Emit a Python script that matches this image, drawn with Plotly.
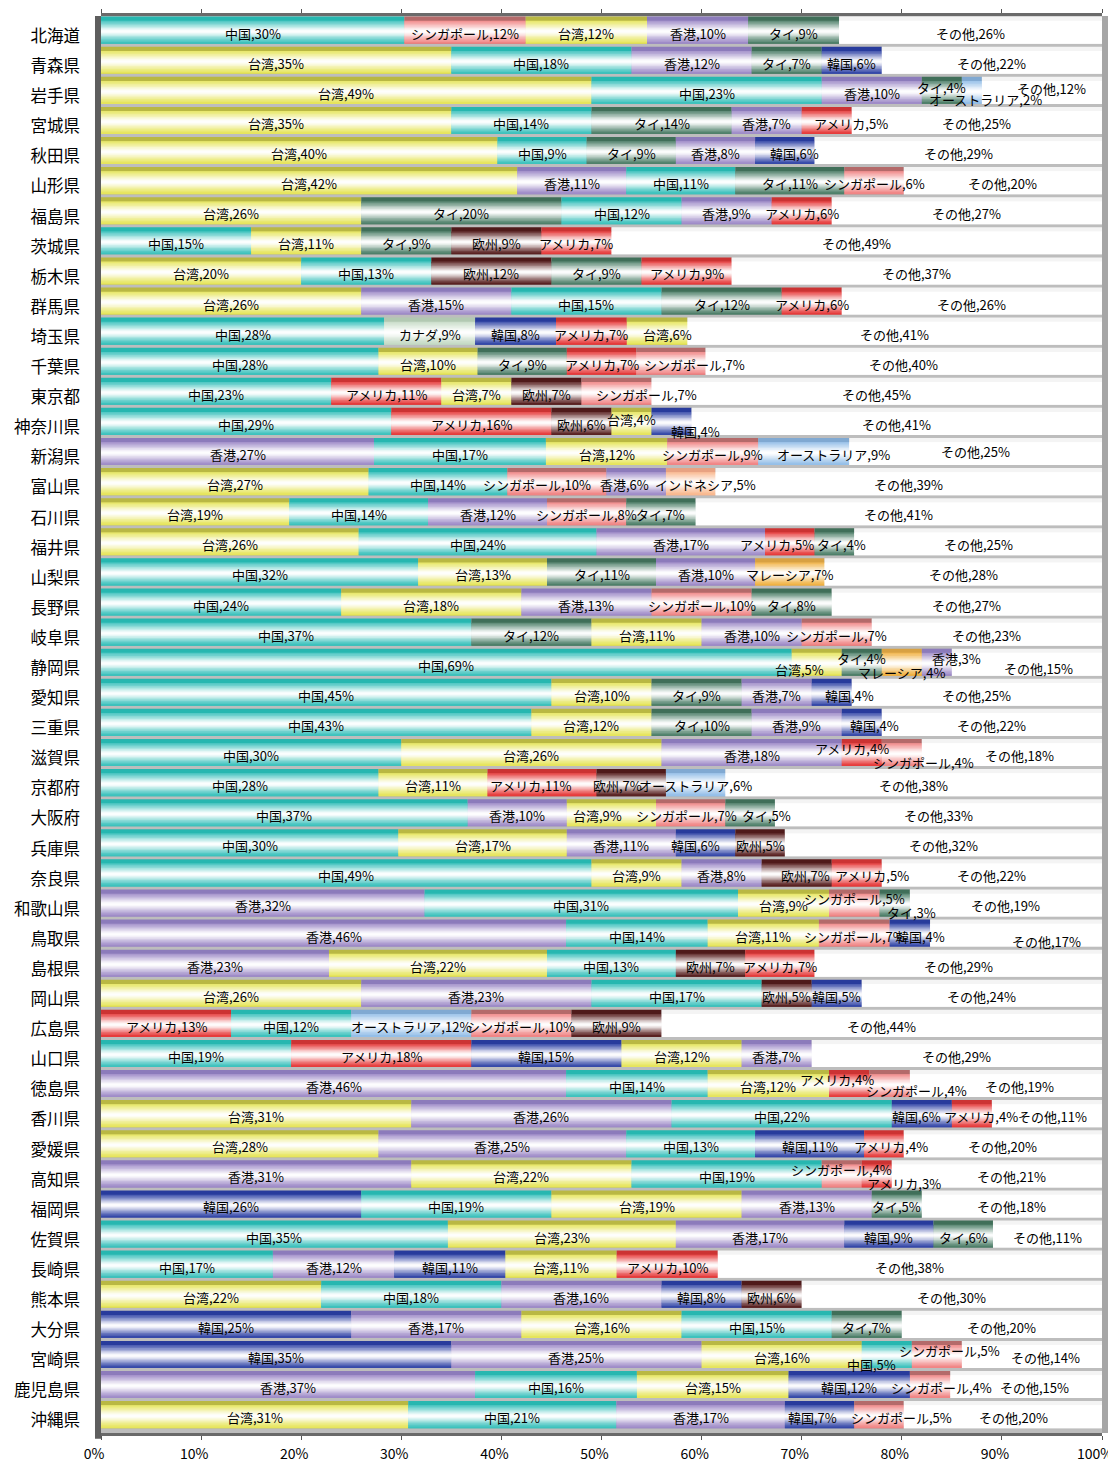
import numpy as np
import plotly.graph_objects as go

prefectures = ["北海道", "青森県", "岩手県", "宮城県", "秋田県", "山形県", "福島県", "茨城県", "栃木県", "群馬県",
               "埼玉県", "千葉県", "東京都", "神奈川県", "新潟県", "富山県", "石川県", "福井県", "山梨県", "長野県",
               "岐阜県", "静岡県", "愛知県", "三重県", "滋賀県", "京都府", "大阪府", "兵庫県", "奈良県", "和歌山県",
               "鳥取県", "島根県", "岡山県", "広島県", "山口県", "徳島県", "香川県", "愛媛県", "高知県", "福岡県",
               "佐賀県", "長崎県", "熊本県", "大分県", "宮崎県", "鹿児島県", "沖縄県"]

rank1_country = ["中国", "台湾", "台湾", "台湾", "台湾", "台湾", "台湾", "中国", "台湾", "台湾",
                 "中国", "中国", "中国", "中国", "香港", "台湾", "台湾", "台湾", "中国", "中国",
                 "中国", "中国", "中国", "中国", "中国", "中国", "中国", "中国", "中国", "香港",
                 "香港", "香港", "台湾", "アメリカ", "中国", "香港", "台湾", "台湾", "香港", "韓国",
                 "中国", "中国", "台湾", "韓国", "韓国", "香港", "台湾"]
rank1_value = [30, 35, 49, 35, 40, 42, 26, 15, 20, 26,
               28, 28, 23, 29, 27, 27, 19, 26, 32, 24,
               37, 69, 45, 43, 30, 28, 37, 30, 49, 32,
               46, 23, 26, 13, 19, 46, 31, 28, 31, 26,
               35, 17, 22, 25, 35, 37, 31]

rank2_country = ["シンガポール", "中国", "中国", "中国", "中国", "香港", "タイ", "台湾", "中国", "香港",
                 "カナダ", "台湾", "アメリカ", "アメリカ", "中国", "中国", "中国", "中国", "台湾", "台湾",
                 "タイ", "台湾", "台湾", "台湾", "台湾", "台湾", "香港", "台湾", "台湾", "中国",
                 "中国", "台湾", "香港", "中国", "アメリカ", "中国", "香港", "香港", "台湾", "中国",
                 "台湾", "香港", "中国", "香港", "香港", "中国", "中国"]
rank2_value = [12, 18, 23, 14, 9, 11, 20, 11, 13, 15,
               9, 10, 11, 16, 17, 14, 14, 24, 13, 18,
               12, 5, 10, 12, 26, 11, 10, 17, 9, 31,
               14, 22, 23, 12, 18, 14, 26, 25, 22, 19,
               23, 12, 18, 17, 25, 16, 21]

rank3_country = ["台湾", "香港", "香港", "タイ", "タイ", "中国", "中国", "タイ", "欧州", "中国",
                 "韓国", "タイ", "台湾", "欧州", "台湾", "シンガポール", "香港", "香港", "タイ", "香港",
                 "台湾", "タイ", "タイ", "タイ", "香港", "アメリカ", "台湾", "香港", "香港", "台湾",
                 "台湾", "中国", "中国", "オーストラリア", "韓国", "台湾", "中国", "中国", "中国", "台湾",
                 "香港", "韓国", "香港", "台湾", "台湾", "台湾", "香港"]
rank3_value = [12, 12, 10, 14, 9, 11, 12, 9, 12, 15,
               8, 9, 7, 6, 12, 10, 12, 17, 11, 13,
               11, 4, 9, 10, 18, 11, 9, 11, 8, 9,
               11, 13, 17, 12, 15, 12, 22, 13, 19, 19,
               17, 11, 16, 16, 16, 15, 17]

rank4_country = ["香港", "タイ", "タイ", "香港", "香港", "タイ", "香港", "欧州", "タイ", "タイ",
                 "アメリカ", "アメリカ", "欧州", "台湾", "シンガポール", "香港", "シンガポール", "アメリカ", "香港", "シンガポール",
                 "香港", "マレーシア", "香港", "香港", "アメリカ", "欧州", "シンガポール", "韓国", "欧州", "シンガポール",
                 "シンガポール", "欧州", "欧州", "シンガポール", "台湾", "アメリカ", "韓国", "韓国", "シンガポール", "香港",
                 "韓国", "台湾", "韓国", "中国", "中国", "韓国", "韓国"]
rank4_value = [10, 7, 4, 7, 8, 11, 9, 9, 9, 12,
               7, 7, 7, 4, 9, 6, 8, 5, 10, 10,
               10, 4, 7, 9, 4, 7, 7, 6, 7, 5,
               7, 7, 5, 10, 12, 4, 6, 11, 4, 13,
               9, 11, 8, 15, 5, 12, 7]

rank5_country = ["タイ", "韓国", "オーストラリア", "アメリカ", "韓国", "シンガポール", "アメリカ", "アメリカ", "アメリカ", "アメリカ",
                 "台湾", "シンガポール", "シンガポール", "韓国", "オーストラリア", "インドネシア", "タイ", "タイ", "マレーシア", "タイ",
                 "シンガポール", "香港", "韓国", "韓国", "シンガポール", "オーストラリア", "タイ", "欧州", "アメリカ", "タイ",
                 "韓国", "アメリカ", "韓国", "欧州", "香港", "シンガポール", "アメリカ", "アメリカ", "アメリカ", "タイ",
                 "タイ", "アメリカ", "欧州", "タイ", "シンガポール", "シンガポール", "シンガポール"]
rank5_value = [9, 6, 2, 5, 6, 6, 6, 7, 9, 6,
               6, 7, 7, 4, 9, 5, 7, 4, 7, 8,
               7, 3, 4, 4, 4, 6, 5, 5, 5, 3,
               4, 7, 5, 9, 7, 4, 4, 4, 3, 5,
               6, 10, 6, 7, 5, 4, 5]

other_label = "その他"
other_value = [26, 22, 12, 25, 29, 20, 27, 49, 37, 26,
               41, 40, 45, 41, 25, 39, 41, 25, 28, 27,
               23, 15, 25, 22, 18, 38, 33, 32, 22, 19,
               17, 29, 24, 44, 29, 19, 11, 20, 21, 18,
               11, 38, 30, 20, 14, 15, 20]

x_tick_values = [0, 10, 20, 30, 40, 50, 60, 70, 80, 90, 100]
x_tick_labels = ["0%", "10%", "20%", "30%", "40%", "50%", "60%", "70%", "80%", "90%", "100%"]

# ---------------------------------------------------------------- styling
COLORS = {  # (top face, front face)
    "中国": ("#27b7b0", "#3ec2bd"),
    "台湾": ("#b9b843", "#e6e55c"),
    "香港": ("#8c7bbb", "#9f8cc8"),
    "タイ": ("#406f59", "#4f806a"),
    "韓国": ("#283b9c", "#3649a9"),
    "シンガポール": ("#b46a6a", "#f08585"),
    "アメリカ": ("#cc3333", "#e63c3c"),
    "欧州": ("#4f1a1a", "#5a2222"),
    "オーストラリア": ("#80a9d2", "#95bfe8"),
    "マレーシア": ("#d8a142", "#f0b244"),
    "インドネシア": ("#e8a282", "#f9b88f"),
    "カナダ": ("#b2c9b2", "#c6dbc6"),
    "その他": ("#f4f4f4", "#ffffff"),
}


def mix(hex_color, t):
    h = hex_color.lstrip("#")
    r, g, b = int(h[0:2], 16), int(h[2:4], 16), int(h[4:6], 16)
    r = round(r + (255 - r) * t)
    g = round(g + (255 - g) * t)
    b = round(b + (255 - b) * t)
    return f"#{r:02x}{g:02x}{b:02x}"


# layers: (bar width, offset, whiteness)  -- top face, front, then graded highlight
CENTER = 0.04
LAYERS = [(0.90, -0.45, None), (0.75, -0.30, 0.0)]
for w, t in [(0.70, 0.12), (0.60, 0.25), (0.50, 0.40), (0.40, 0.55),
             (0.31, 0.70), (0.22, 0.82), (0.14, 0.92), (0.07, 0.98)]:
    LAYERS.append((w, CENTER - w / 2, t))

# label placement tweaks (pixels) keyed by (prefecture, segment rank 0..5)
LABEL_YSHIFT = {
    ("岩手県", 3): 6, ("岩手県", 4): -6, ("岩手県", 5): 5,
    ("神奈川県", 3): 5, ("神奈川県", 4): -7,
    ("新潟県", 5): 3,
    ("静岡県", 1): -4, ("静岡県", 2): 7, ("静岡県", 3): -7, ("静岡県", 4): 7, ("静岡県", 5): -3,
    ("滋賀県", 3): 7, ("滋賀県", 4): -7,
    ("和歌山県", 3): 7, ("和歌山県", 4): -7,
    ("鳥取県", 5): -5,
    ("徳島県", 3): 7, ("徳島県", 4): -4,
    ("高知県", 3): 7, ("高知県", 4): -7,
    ("宮崎県", 3): -7, ("宮崎県", 4): 7,
}
LABEL_XSHIFT = {
    ("宮城県", 4): 24, ("新潟県", 4): 30,
    ("富山県", 2): -20, ("富山県", 3): -12, ("富山県", 4): 15,
    ("福井県", 3): -13, ("福井県", 4): 7,
    ("大阪府", 2): -14, ("大阪府", 3): -4, ("大阪府", 4): 16,
    ("京都府", 2): -12, ("京都府", 3): -14,
    ("奈良県", 3): 9, ("奈良県", 4): 15,
    ("兵庫県", 3): -10,
    ("香川県", 3): -5, ("香川県", 4): 9, ("香川県", 5): 6,
    ("鹿児島県", 4): 11, ("鹿児島県", 5): 8,
    ("沖縄県", 3): -7, ("沖縄県", 4): 22, ("沖縄県", 5): 11,
    ("千葉県", 4): 24, ("東京都", 4): 30, ("埼玉県", 4): 10, ("神奈川県", 4): 24,
    ("静岡県", 1): -17, ("静岡県", 4): 20, ("静岡県", 5): 12,
    ("岩手県", 4): 14, ("岩手県", 5): 10,
    ("和歌山県", 4): 17,
    ("鳥取県", 4): 11, ("鳥取県", 5): 30,
    ("滋賀県", 3): -10, ("滋賀県", 4): 22, ("滋賀県", 5): 8,
    ("徳島県", 3): -12, ("徳島県", 4): 27, ("徳島県", 5): 14,
    ("高知県", 4): 27, ("高知県", 5): 15,
    ("愛媛県", 4): 7,
    ("宮崎県", 3): -15, ("宮崎県", 4): 13, ("宮崎県", 5): 14,
    ("愛知県", 4): 18, ("三重県", 4): 13, ("秋田県", 4): 10,
}

# ---------------------------------------------------------------- data prep
n = len(prefectures)
rank_countries = [rank1_country, rank2_country, rank3_country, rank4_country, rank5_country,
                  [other_label] * n]
rank_values = np.array([rank1_value, rank2_value, rank3_value, rank4_value, rank5_value,
                        other_value], dtype=float)
widths = rank_values / rank_values.sum(axis=0) * 100.0
starts = np.vstack([np.zeros(n), np.cumsum(widths, axis=0)[:-1]])
ypos = np.arange(n)

fig = go.Figure()
for lw, off, t in LAYERS:
    for r in range(len(rank_countries)):
        if t is None:
            cols = [COLORS[c][0] for c in rank_countries[r]]
        else:
            cols = [mix(COLORS[c][1], t) for c in rank_countries[r]]
        fig.add_trace(go.Bar(
            y=ypos, x=widths[r], base=starts[r], orientation="h",
            width=lw, offset=off,
            marker=dict(color=cols, line=dict(width=0)),
            hoverinfo="skip", showlegend=False,
        ))

annotations = []
for r in range(len(rank_countries)):
    for i in range(n):
        annotations.append(dict(
            x=starts[r][i] + widths[r][i] / 2, y=i + 0.1,
            xref="x", yref="y",
            text=f"{rank_countries[r][i]},{int(rank_values[r][i])}%",
            showarrow=False, xanchor="center", yanchor="middle",
            yshift=LABEL_YSHIFT.get((prefectures[i], r), 0),
            xshift=LABEL_XSHIFT.get((prefectures[i], r), 0),
            font=dict(family="Noto Sans CJK JP", size=13, color="#000000"),
        ))

shapes = [
    # dark left wall
    dict(type="rect", xref="paper", yref="paper", x0=-0.006, x1=0.0, y0=-0.004, y1=1.0,
         fillcolor="#5e5e5e", line=dict(width=0), layer="above"),
    # right side wall
    dict(type="rect", xref="paper", yref="paper", x0=1.0, x1=1.01, y0=0.0, y1=1.0,
         fillcolor="#a6a6a6", line=dict(width=0), layer="below"),
]

# the page body adds an 8px margin, so the figure is sized to fit inside it
fig.update_layout(
    width=1108, height=1455,
    margin=dict(l=93, r=14, t=8, b=30),
    barmode="overlay",
    paper_bgcolor="white",
    plot_bgcolor="#bdbdbd",
    annotations=annotations,
    shapes=shapes,
    font=dict(family="Noto Sans CJK JP", color="black"),
    xaxis=dict(
        range=[0, 100], tickvals=x_tick_values, ticktext=x_tick_labels,
        showgrid=False, zeroline=False, showline=True, linecolor="#6a6a6a", linewidth=3,
        mirror="ticks", ticks="outside", ticklen=4, tickcolor="#555555",
        tickfont=dict(family="Noto Sans CJK JP", size=14, color="black"),
        ticklabelshift=-7, ticklabelstandoff=2, automargin=False,
    ),
    yaxis=dict(
        range=[n - 1 + 0.61, -0.47],
        tickvals=ypos + 0.2, ticktext=prefectures,
        showgrid=False, zeroline=False, showline=False, ticks="",
        tickfont=dict(family="Noto Sans CJK JP", size=16.5, color="black"),
        ticklabelstandoff=20, automargin=False,
    ),
)

fig.write_html("out.html")
